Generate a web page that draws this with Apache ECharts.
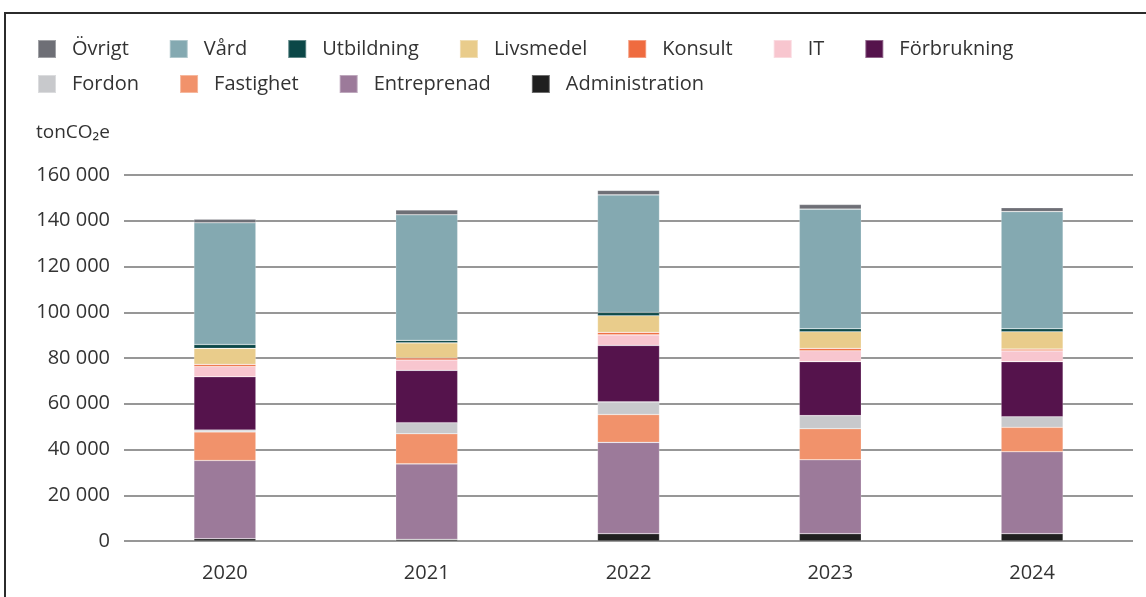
<!DOCTYPE html>
<html><head><meta charset="utf-8">
<script src="https://cdn.jsdelivr.net/npm/echarts@6/dist/echarts.min.js"></script>
<style>html,body{margin:0;padding:0;background:#fff}#c{width:1146px;height:597px}</style>
</head><body><div id="c"></div>
<script>
const years = ['2020','2021','2022','2023','2024'];
const yTicks = [0,20000,40000,60000,80000,100000,120000,140000,160000];
const administration = [1000, 700, 3200, 3200, 3200];
const entreprenad = [34200, 33000, 39900, 32300, 35800];
const fastighet = [12500, 13200, 12200, 13600, 10700];
const fordon = [800, 4800, 5500, 5700, 4600];
const forbrukning = [23300, 22900, 24700, 23600, 24100];
const it = [4500, 4500, 4600, 4800, 4700];
const konsult = [900, 900, 1100, 1000, 800];
const livsmedel = [7000, 6600, 7300, 7300, 7600];
const utbildning = [1700, 1100, 1400, 1300, 1300];
const vard = [53200, 54900, 51400, 52300, 51200];
const ovrigt = [1600, 2100, 2000, 2000, 1700];

const seriesDefs = [
  ['Administration', administration, '#1f1f1f'],
  ['Entreprenad', entreprenad, '#9c7a9a'],
  ['Fastighet', fastighet, '#f1926b'],
  ['Fordon', fordon, '#c8c9cc'],
  ['Förbrukning', forbrukning, '#55134c'],
  ['IT', it, '#f8c6cf'],
  ['Konsult', konsult, '#ef6b3f'],
  ['Livsmedel', livsmedel, '#e9cc8b'],
  ['Utbildning', utbildning, '#0b4747'],
  ['Vård', vard, '#84a9b1'],
  ['Övrigt', ovrigt, '#6e6f76']
];

const font = '"Open Sans", sans-serif';
const legendText = {color:'#333', fontSize:20, fontFamily:font, padding:[0,0,0,11]};
const chart = echarts.init(document.getElementById('c'));
chart.setOption({
  animation:false,
  backgroundColor:'#fff',
  graphic:[
    {type:'rect', shape:{x:5,y:13,width:1160,height:600}, style:{fill:'none', stroke:'#2b2b2b', lineWidth:2}, silent:true},
    {type:'text', left:36, top:123, style:{text:'tonCO₂e', fontSize:19, fontFamily:font, fill:'#333'}}
  ],
  legend:[
    {left:37, top:39, padding:0, itemWidth:18, itemHeight:18, itemGap:40, icon:'rect', textStyle:legendText,
     data:['Övrigt','Vård','Utbildning','Livsmedel','Konsult','IT','Förbrukning']},
    {left:37, top:74, padding:0, itemWidth:18, itemHeight:18, itemGap:40, icon:'rect', textStyle:legendText,
     data:['Fordon','Fastighet','Entreprenad','Administration']}
  ],
  grid:{left:124, right:13, top:175, bottom:56},
  xAxis:{type:'category', data:years,
    axisLine:{show:false}, axisTick:{show:false},
    axisLabel:{color:'#333', fontSize:20, fontFamily:font, margin:22}},
  yAxis:{type:'value', min:yTicks[0], max:yTicks[yTicks.length-1], interval:yTicks[1]-yTicks[0],
    axisLine:{show:false}, axisTick:{show:false},
    splitLine:{lineStyle:{color:'#757575', width:1.5}},
    axisLabel:{color:'#333', fontSize:20, fontFamily:font, margin:14,
      formatter:v=>String(v).replace(/\B(?=(\d{3})+(?!\d))/g,' ')}},
  series: seriesDefs.map(([name,data,color])=>({
    name, type:'bar', stack:'total', data, barWidth:62,
    itemStyle:{color, borderColor:'rgba(255,255,255,0.35)', borderWidth:0.6}
  }))
});
</script></body></html>
